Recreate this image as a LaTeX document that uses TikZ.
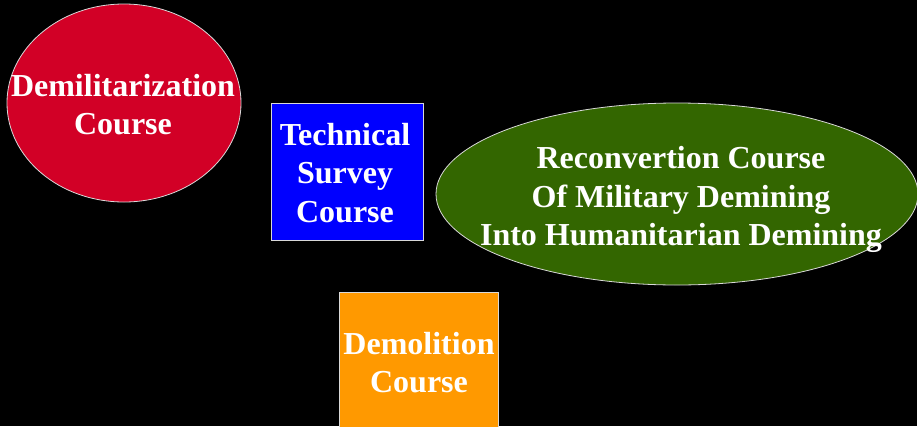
\documentclass[tikz,border=0pt]{standalone}
\usepackage{fontspec}
\setmainfont{Liberation Serif}
\usetikzlibrary{shapes.geometric}
\definecolor{courseRed}{RGB}{210,0,38}
\definecolor{courseBlue}{RGB}{0,0,255}
\definecolor{courseGreen}{RGB}{51,102,0}
\definecolor{courseOrange}{RGB}{255,153,0}
\begin{document}
\begin{tikzpicture}[x=1pt, y=-1pt,
    oval/.style={ellipse, draw=white!85!black, line width=0.8pt, inner sep=0pt},
    box/.style={rectangle, draw=white!85!black, line width=0.8pt, inner sep=0pt},
    label text/.style={text=white, align=center, inner sep=0pt,
        font=\bfseries\fontsize{32}{38.7}\selectfont}]
    \useasboundingbox (0,0) rectangle (917,426);
    \fill[black] (0,0) rectangle (917,426);
    \clip (0,0) rectangle (917,426);
    % course shapes
    \node[oval, fill=courseRed, minimum width=234pt, minimum height=198pt] (demil) at (124,103) {};
    \node[box, fill=courseBlue, minimum width=152pt, minimum height=137pt] (survey) at (347,171.5) {};
    \node[oval, fill=courseGreen, minimum width=482pt, minimum height=182pt] (reconv) at (677,194) {};
    \node[box, fill=courseOrange, minimum width=159pt, minimum height=141pt] (demol) at (418.5,362.5) {};
    % course names
    \node[label text] (demiltext) at (123,104.5) {Demilitarization\\Course};
    \node[label text] (surveytext) at (345,173) {Technical\\Survey\\Course};
    \node[label text] (reconvtext) at (681,199.5) {Reconvertion Course\\Of Military Demining\\Into Humanitarian Demining};
    \node[label text] (demoltext) at (419,362.5) {Demolition\\Course};
\end{tikzpicture}
\end{document}
